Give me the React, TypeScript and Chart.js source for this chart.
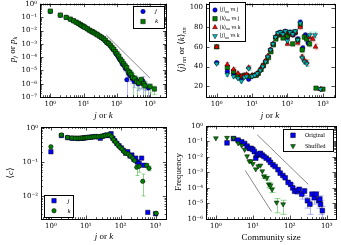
import React, { useEffect, useRef } from "react";
import { Chart, registerables } from "chart.js";

Chart.register(...registerables);

const SERIF = "'Liberation Serif', 'DejaVu Serif', serif";
const TICKFONT = "'DejaVu Serif', 'Liberation Serif', serif";
const BLUE = "#0000ff";
const GREEN = "#008000";
const RED = "#ff0000";
const CYAN = "#00bfbf";

// ===== Panel 1: p_j / p_k =====
const p1JX = [1,2,3,4,5,6,7,8,9,10,12,14,16,18,20,23,26,30,34,38,43,48,54,60,67,75,84,94,105,117,130,145,160,180,200,225,250,290,330,380,440,520,600,700,890];
const p1PjY = [0.28,0.145,0.1,0.072,0.054,0.043,0.035,0.028,0.023,0.02,0.015,0.012,0.01,0.0085,0.0074,0.006,0.005,0.0038,0.003,0.0025,0.0019,0.0014,0.0011,0.0009,6.3e-4,4.2e-4,3.2e-4,1.8e-4,1.3e-4,8e-5,5.6e-5,3.2e-5,2.5e-5,1.4e-5,2e-6,6e-6,4e-6,2.5e-6,1.5e-6,2e-6,1e-6,1.2e-6,1.7e-6,8e-7,4.8e-7];
const p1PjErr = [0,0,0,0,0,0,0,0,0,0,0,0,0,0,0,0,0,0,0,0,0,0,0,0,0,0,0,0,0,1.5e-5,1.2e-5,9e-6,8e-6,6e-6,2e-6,3e-6,2.5e-6,1.5e-6,1e-6,1.2e-6,7e-7,8e-7,1.7e-6,5e-7,4.8e-7];
const p1KX = [1,2,3,4,5,6,7,8,9,10,11,13,15,17,19,21,24,27,31,35,40,45,51,57,64,72,81,91,102,115,128,143,160,178,198,220,245,270,300,345,400,460,540,640,700,1000,1350];
const p1PkY = [0.3,0.15,0.1,0.075,0.056,0.044,0.036,0.029,0.024,0.021,0.018,0.014,0.011,0.0092,0.008,0.0068,0.0056,0.0047,0.0038,0.0031,0.0025,0.0019,0.0013,0.0011,8e-4,5.5e-4,4e-4,2.6e-4,1.8e-4,1.2e-4,7e-5,5e-5,3.2e-5,2.2e-5,1.6e-5,9e-6,7e-6,5e-6,3e-6,2.5e-6,1.5e-6,1.2e-6,2e-6,1e-6,7e-7,6e-7,4e-7];
const p1PkErr = [0,0,0,0,0,0,0,0,0,0,0,0,0,0,0,0,0,0,0,0,0,0,0,0,0,0,0,0,0,0,1.2e-5,1e-5,8e-6,6e-6,5e-6,4e-6,3.5e-6,3e-6,3e-6,1.5e-6,1.5e-6,8e-7,1.2e-6,6e-7,7e-7,4e-7,2.5e-7];
const p1RefX = [48, 1000];
const p1RefY = [0.0048, 2.6e-6];
const p1XTicks = [1, 10, 100, 1000];
const p1YTicks = [1e-7, 1e-6, 1e-5, 1e-4, 1e-3, 1e-2, 1e-1, 1];

// ===== Panel 2: <j>_nn / <k>_nn =====
const p2BX = [1,2,3,4,5,6,7,8,10,12,14,17,20,24,28,33,39,46,54,63,74,87,100,118,140,165,195,230,270,320,380,900];
const p2BY = [44,35,33,29,28,30,30,27,30,31,32,36,40,45,50,57,63,70,74,75,73,76,70,75,72,74,68,85,59,72,64,17];
const p2BErr = [1.5,2,2,1.5,1.5,1,1,1,1,1,1,1,1,1,1,1,1,1,1,1.5,1.5,1.5,2,2,2,2,2.5,2.5,2.5,2.5,3,1];
const p2GX = [1,2,3,4,5,6,7,9,11,13,15,18,21,25,29,34,40,47,55,64,75,88,100,120,140,165,195,230,260,300,350,420,640,1000];
const p2GY = [60,39,35,31,30,31,31,30,31,31,33,37,41,45,49,55,62,68,72,73,69,74,71,74,63,75,67,82,57,70,68,63,18,17];
const p2GErr = [1.5,2,2,1.5,1.5,1,1,1,1,1,1,1,1,1,1,1,1,1,1,1.5,1.5,1.5,2,2,2,2,2.5,2.5,2.5,2.5,3,3,1,1];
const p2RX = [1,2,3,4,5,6,7,8,10,12,14,17,20,24,28,33,39,46,54,63,74,87,100,118,140,165,195,230,260,300,350,420,520,620,850];
const p2RY = [60,42,37,33,30,31,32,39,31,31,33,37,41,46,51,57,63,70,73,74,72,75,63,74,72,75,64,80,50,46,44,70,68,60,17];
const p2RErr = [1.5,2,2,1.5,1.5,1,1,2,1,1,1,1,1,1,1,1,1,1,1,1.5,1.5,1.5,2,2,2,2,2.5,2.5,2.5,2.5,3,3,3,3,1];
const p2CX = [1,2,3,4,5,6,7,8,10,12,14,17,20,24,28,33,39,46,54,63,74,87,100,118,140,165,195,230,260,300,350,420,600,850];
const p2CY = [43,32,30,28,25,29,30,38,30,31,33,36,40,45,50,57,63,70,74,75,73,76,66,75,73,76,67,84,49,45,43,72,72,17];
const p2CErr = [1.5,2,2,1.5,1.5,1,1,2,1,1,1,1,1,1,1,1,1,1,1,1.5,1.5,1.5,2,2,2,2,2.5,2.5,2.5,2.5,3,3,3,1];
const p2XTicks = [1, 10, 100, 1000];
const p2YTicks = [20, 40, 60, 80, 100];

// ===== Panel 3: <c> =====
const p3JX = [1,2,3,4,5,6,7,8,9,10,12,14,16,19,22,26,30,35,40,46,53,60,68,78,90,105,120,140,160,185,210,240,270,300,340,400,460,600,1000];
const p3CJ = [0.2,0.6,0.52,0.5,0.5,0.49,0.5,0.5,0.51,0.52,0.53,0.54,0.55,0.56,0.55,0.5,0.57,0.6,0.62,0.6,0.68,0.5,0.42,0.35,0.3,0.26,0.22,0.18,0.2,0.15,0.16,0.12,0.13,0.1,0.09,0.13,0.08,0.0033,0.003];
const p3KX = [1,2,3,4,5,6,7,8,9,10,11,13,15,17,20,23,27,31,36,42,48,55,63,72,83,95,110,125,145,165,190,220,250,290,340,430,560,650,1050];
const p3CK = [0.28,0.62,0.53,0.51,0.5,0.5,0.5,0.51,0.51,0.52,0.53,0.53,0.54,0.55,0.56,0.55,0.57,0.58,0.6,0.62,0.63,0.55,0.45,0.38,0.32,0.27,0.24,0.2,0.18,0.17,0.15,0.13,0.11,0.07,0.075,0.027,0.08,0.065,0.0031];
const p3CKErr = [0,0,0,0,0,0,0,0,0,0,0,0,0,0,0,0,0,0,0,0,0,0,0,0,0,0,0,0,0,0,0,0,0,0.03,0.025,0.017,0.01,0.01,0];
const p3XTicks = [1, 10, 100, 1000];
const p3YTicks = [0.01, 0.1, 1];

// ===== Panel 4: community sizes =====
const p4OrigX = [2,3,4,5,6,7,8,9,10,11,12,13,14,16,18,20,23,27,30,35,40,48,55,65,75,90,105,120,135,160,180,210,250,300,350,400,460,520,600,650,680,760];
const p4OrigY = [0.08,0.15,0.12,0.093,0.072,0.049,0.035,0.035,0.03,0.022,0.0082,0.013,0.015,0.017,0.013,0.0105,0.0082,0.0063,0.0044,0.0031,0.0024,0.0015,9e-4,6.3e-4,4.5e-4,2.3e-4,1.7e-4,1e-4,6.3e-5,6.3e-5,8e-5,3.9e-5,6.3e-5,1.5e-5,9e-6,3.9e-5,2.4e-5,3.9e-5,1.5e-5,1.9e-5,9e-6,3.5e-6];
const p4OrigErr = [0,0,0,0,0,0,0,0,0,0,0,0,0,0,0,0,0,0,0,0,0,0,0,0,0,0,2e-5,2e-5,2e-5,2.5e-5,3e-5,2e-5,3e-5,1e-5,7e-6,2e-5,1.5e-5,2e-5,1e-5,1.2e-5,7e-6,3e-6];
const p4ShufX = [1,2,3,4,5,6,7,8,9,10,12,14,16,18,20,24,27,30,33,44,66];
const p4ShufY = [0.16,0.17,0.16,0.076,0.054,0.029,0.011,0.0053,0.0053,0.0035,0.0016,0.0025,0.0028,0.0012,5.6e-4,4.4e-4,1.7e-4,1.4e-4,8e-5,1.15e-5,9e-6];
const p4ShufErr = [0,0,0,0,0,0,0,0,0,0,0,0,0,0,1.5e-4,1.2e-4,6e-5,5e-5,3e-5,9e-6,7e-6];
const p4RefAX = [13, 316];
const p4RefAY = [0.27, 1.7e-4];
const p4RefBX = [6.2, 32];
const p4RefBY = [1.35e-3, 3e-6];
const p4XTicks = [1, 10, 100, 1000];
const p4YTicks = [1e-6, 1e-5, 1e-4, 1e-3, 1e-2, 1e-1, 1];

// ===== helpers =====
const SUP: Record<string, string> = { "0": "⁰", "1": "¹", "2": "²", "3": "³", "4": "⁴", "5": "⁵", "6": "⁶", "7": "⁷", "8": "⁸", "9": "⁹", "-": "⁻" };
const pow10Label = (v: number) => {
  const e = Math.round(Math.log10(v));
  return "10" + String(e).split("").map((c) => SUP[c]).join("");
};

type Seg = { t: string; it?: boolean; sub?: boolean };
type LegendItem = { segs: Seg[]; style: string; color: string; r: number; rot?: number };
type LegendSpec = { x: number; y: number; w: number; h: number; mx: number; tx: number; rows: number[]; size: number; items: LegendItem[] };
type TitleSpec = { segs: Seg[]; x: number; y: number; size: number; rotate?: boolean };
type AxisSpec = { min: number; max: number; ticks: number[]; log: boolean };
type PanelSpec = {
  left: number; top: number; w: number; h: number;
  area: { left: number; top: number; right: number; bottom: number };
  x: AxisSpec; y: AxisSpec;
  datasets: any[];
  legend: LegendSpec;
  xTitle: TitleSpec; yTitle: TitleSpec;
  capW: number;
};

const pts = (xs: number[], ys: number[]) => xs.map((x, i) => ({ x, y: ys[i] }));

function series(xs: number[], ys: number[], style: string, color: string, r: number, order: number, err?: number[], errColor?: string, rot = 0) {
  return {
    data: pts(xs, ys), pointStyle: style, pointRadius: r, pointHoverRadius: r,
    pointBackgroundColor: color, pointBorderColor: "#000", pointBorderWidth: 0.5,
    pointRotation: rot, order, err, errColor, showLine: false,
  };
}
function refLine(xs: number[], ys: number[]) {
  return { data: pts(xs, ys), showLine: true, pointRadius: 0, borderColor: "#8a8a8a", borderWidth: 1, order: 20 };
}

function drawRich(ctx: CanvasRenderingContext2D, segs: Seg[], x: number, y: number, size: number, align: "left" | "center") {
  const fontFor = (s: Seg) => `${s.it ? "italic " : ""}${s.sub ? size * 0.7 : size}px ${SERIF}`;
  let total = 0;
  const ws = segs.map((s) => { ctx.font = fontFor(s); const w = ctx.measureText(s.t).width; total += w; return w; });
  let cx = align === "left" ? x : x - total / 2;
  ctx.textAlign = "left";
  ctx.textBaseline = "middle";
  ctx.fillStyle = "#000";
  segs.forEach((s, i) => {
    ctx.font = fontFor(s);
    ctx.fillText(s.t, cx, y + (s.sub ? size * 0.28 : 0));
    cx += ws[i];
  });
}

function drawMarker(ctx: CanvasRenderingContext2D, style: string, x: number, y: number, r: number, fill: string, rot = 0) {
  ctx.save();
  ctx.fillStyle = fill;
  ctx.strokeStyle = "#000";
  ctx.lineWidth = 0.5;
  ctx.beginPath();
  if (style === "circle") ctx.arc(x, y, r, 0, Math.PI * 2);
  else if (style === "rect") { const s = r / Math.SQRT2; ctx.rect(x - s, y - s, 2 * s, 2 * s); }
  else {
    let a = (rot * Math.PI) / 180;
    for (let k = 0; k < 3; k++) {
      const px = x + Math.sin(a) * r, py = y - Math.cos(a) * r;
      if (k === 0) ctx.moveTo(px, py); else ctx.lineTo(px, py);
      a += (2 * Math.PI) / 3;
    }
    ctx.closePath();
  }
  ctx.fill();
  ctx.stroke();
  ctx.restore();
}

function tickList(a: AxisSpec) {
  const out: { v: number; major: boolean }[] = [];
  if (a.log) {
    for (let d = Math.floor(Math.log10(a.min)); d <= Math.ceil(Math.log10(a.max)); d++) {
      for (let m = 1; m <= 9; m++) {
        const v = m * Math.pow(10, d);
        if (v >= a.min && v <= a.max) out.push({ v, major: m === 1 });
      }
    }
  } else {
    a.ticks.forEach((v) => out.push({ v, major: true }));
  }
  return out;
}

function decor(p: PanelSpec) {
  return {
    id: "decor",
    beforeDatasetsDraw(chart: any) {
      const ctx: CanvasRenderingContext2D = chart.ctx;
      const ca = chart.chartArea;
      const xs = chart.scales.x, ys = chart.scales.y;
      ctx.save();
      ctx.beginPath();
      ctx.rect(ca.left, ca.top, ca.right - ca.left, ca.bottom - ca.top);
      ctx.clip();
      chart.data.datasets.forEach((ds: any) => {
        if (!ds.err) return;
        ctx.strokeStyle = ds.errColor;
        ctx.lineWidth = 1;
        ds.data.forEach((pt: any, j: number) => {
          const e = ds.err[j];
          if (!e) return;
          const px = Math.round(xs.getPixelForValue(pt.x)) + 0.5;
          const yTop = ys.getPixelForValue(pt.y + e);
          const lowOk = pt.y - e > 0;
          const yBot = lowOk ? ys.getPixelForValue(pt.y - e) : ca.bottom + 2;
          ctx.beginPath();
          ctx.moveTo(px, yTop); ctx.lineTo(px, yBot);
          ctx.moveTo(px - p.capW, yTop); ctx.lineTo(px + p.capW, yTop);
          if (lowOk) { ctx.moveTo(px - p.capW, yBot); ctx.lineTo(px + p.capW, yBot); }
          ctx.stroke();
        });
      });
      ctx.restore();
    },
    afterDatasetsDraw(chart: any) {
      const ctx: CanvasRenderingContext2D = chart.ctx;
      const ca = chart.chartArea;
      const xs = chart.scales.x, ys = chart.scales.y;
      ctx.save();
      ctx.strokeStyle = "#000";
      ctx.lineWidth = 0.7;
      ctx.beginPath();
      tickList(p.x).forEach((t) => {
        const px = Math.round(xs.getPixelForValue(t.v)) + 0.5;
        const L = t.major ? 3.5 : 1.8;
        ctx.moveTo(px, ca.bottom); ctx.lineTo(px, ca.bottom - L);
        ctx.moveTo(px, ca.top); ctx.lineTo(px, ca.top + L);
      });
      tickList(p.y).forEach((t) => {
        const py = Math.round(ys.getPixelForValue(t.v)) + 0.5;
        const L = t.major ? 3.5 : 1.8;
        ctx.moveTo(ca.left, py); ctx.lineTo(ca.left + L, py);
        ctx.moveTo(ca.right, py); ctx.lineTo(ca.right - L, py);
      });
      ctx.stroke();
      ctx.lineWidth = 1;
      ctx.strokeRect(Math.round(ca.left) + 0.5, Math.round(ca.top) + 0.5, Math.round(ca.right - ca.left), Math.round(ca.bottom - ca.top));
      // legend
      const lg = p.legend;
      ctx.fillStyle = "#fff";
      ctx.fillRect(lg.x, lg.y, lg.w, lg.h);
      ctx.strokeStyle = "#000";
      ctx.lineWidth = 1;
      ctx.strokeRect(lg.x + 0.5, lg.y + 0.5, lg.w, lg.h);
      lg.items.forEach((it, i) => {
        drawMarker(ctx, it.style, lg.mx, lg.rows[i], it.r, it.color, it.rot || 0);
        drawRich(ctx, it.segs, lg.tx, lg.rows[i], lg.size, "left");
      });
      ctx.restore();
    },
    afterDraw(chart: any) {
      const ctx: CanvasRenderingContext2D = chart.ctx;
      [p.xTitle, p.yTitle].forEach((t) => {
        ctx.save();
        ctx.translate(t.x, t.y);
        if (t.rotate) ctx.rotate(-Math.PI / 2);
        drawRich(ctx, t.segs, 0, 0, t.size, "center");
        ctx.restore();
      });
    },
  };
}

function buildConfig(p: PanelSpec): any {
  const axis = (a: AxisSpec, isX: boolean) => ({
    type: a.log ? "logarithmic" : "linear",
    min: a.min, max: a.max, bounds: "data",
    grid: { display: false, drawTicks: false },
    border: { display: false },
    ticks: {
      color: "#000", font: { family: TICKFONT, size: 7 }, padding: 3,
      autoSkip: false, maxRotation: 0, minRotation: 0,
      callback: (v: number) => (a.log ? pow10Label(v) : String(v)),
    },
    afterBuildTicks: (s: any) => { s.ticks = a.ticks.map((v) => ({ value: v })); },
    afterFit: (s: any) => {
      if (isX) s.height = p.h - p.area.bottom; else s.width = p.area.left;
      s.paddingLeft = 0; s.paddingRight = 0; s.paddingTop = 0; s.paddingBottom = 0;
    },
  });
  return {
    type: "scatter",
    data: { datasets: p.datasets },
    options: {
      animation: false, responsive: false, maintainAspectRatio: false,
      layout: { padding: { left: 0, top: p.area.top, right: p.w - p.area.right, bottom: 0 } },
      plugins: { legend: { display: false }, tooltip: { enabled: false } },
      scales: { x: axis(p.x, true), y: axis(p.y, false) },
    },
    plugins: [decor(p)],
  };
}

const jOrK: Seg[] = [{ t: "j", it: true }, { t: " or " }, { t: "k", it: true }];

const panels: PanelSpec[] = [
  {
    left: 0, top: 0, w: 170, h: 122,
    area: { left: 40, top: 2, right: 167, bottom: 97 },
    x: { min: 0.49, max: 3100, ticks: p1XTicks, log: true },
    y: { min: 1e-7, max: 1.1, ticks: p1YTicks, log: true },
    datasets: [
      refLine(p1RefX, p1RefY),
      series(p1JX, p1PjY, "circle", BLUE, 2.2, 2, p1PjErr, "rgba(90,90,255,0.45)"),
      series(p1KX, p1PkY, "rect", GREEN, 3.1, 1, p1PkErr, "rgba(40,170,40,0.45)"),
    ],
    legend: {
      x: 133, y: 6, w: 31, h: 22, mx: 143, tx: 155, rows: [11.5, 21.5], size: 7,
      items: [
        { segs: [{ t: "j", it: true }], style: "circle", color: BLUE, r: 2.2 },
        { segs: [{ t: "k", it: true }], style: "rect", color: GREEN, r: 3.1 },
      ],
    },
    xTitle: { segs: jOrK, x: 103.5, y: 116, size: 9 },
    yTitle: { segs: [{ t: "p", it: true }, { t: "j", it: true, sub: true }, { t: " or " }, { t: "p", it: true }, { t: "k", it: true, sub: true }], x: 13, y: 49.5, size: 9, rotate: true },
    capW: 2,
  },
  {
    left: 170, top: 0, w: 171, h: 122,
    area: { left: 36, top: 2, right: 165, bottom: 97 },
    x: { min: 0.5, max: 2200, ticks: p2XTicks, log: true },
    y: { min: 9, max: 104, ticks: p2YTicks, log: false },
    datasets: [
      series(p2BX, p2BY, "circle", BLUE, 2.2, 4, p2BErr, "rgba(90,90,255,0.45)"),
      series(p2GX, p2GY, "rect", GREEN, 3.1, 3, p2GErr, "rgba(40,170,40,0.45)"),
      series(p2RX, p2RY, "triangle", RED, 2.8, 2, p2RErr, "rgba(255,110,110,0.5)"),
      series(p2CX, p2CY, "triangle", CYAN, 2.8, 1, p2CErr, "rgba(0,190,190,0.45)", 180),
    ],
    legend: {
      x: 39, y: 2, w: 36, h: 39, mx: 45, tx: 49.5, rows: [10, 18.7, 27.3, 36], size: 5.5,
      items: [
        { segs: [{ t: "⟨" }, { t: "j", it: true }, { t: "⟩" }, { t: "nn", sub: true }, { t: " vs j" }], style: "circle", color: BLUE, r: 2.2 },
        { segs: [{ t: "⟨" }, { t: "k", it: true }, { t: "⟩" }, { t: "nn", sub: true }, { t: " vs j" }], style: "rect", color: GREEN, r: 3.1 },
        { segs: [{ t: "⟨" }, { t: "k", it: true }, { t: "⟩" }, { t: "nn", sub: true }, { t: " vs k" }], style: "triangle", color: RED, r: 2.8 },
        { segs: [{ t: "⟨" }, { t: "j", it: true }, { t: "⟩" }, { t: "nn", sub: true }, { t: " vs k" }], style: "triangle", color: CYAN, r: 2.8, rot: 180 },
      ],
    },
    xTitle: { segs: jOrK, x: 100, y: 116, size: 9 },
    yTitle: { segs: [{ t: "⟨" }, { t: "j", it: true }, { t: "⟩" }, { t: "nn", it: true, sub: true }, { t: " or " }, { t: "⟨" }, { t: "k", it: true }, { t: "⟩" }, { t: "nn", it: true, sub: true }], x: 11.7, y: 50, size: 9, rotate: true },
    capW: 2,
  },
  {
    left: 0, top: 122, w: 170, h: 123,
    area: { left: 41, top: 5, right: 167, bottom: 97 },
    x: { min: 0.52, max: 2050, ticks: p3XTicks, log: true },
    y: { min: 0.0021, max: 1.07, ticks: p3YTicks, log: true },
    datasets: [
      series(p3JX, p3CJ, "rect", BLUE, 3.1, 2),
      series(p3KX, p3CK, "circle", GREEN, 2.2, 1, p3CKErr, "rgba(40,170,40,0.5)"),
    ],
    legend: {
      x: 44, y: 73, w: 29, h: 22, mx: 54, tx: 67.5, rows: [78.7, 88.7], size: 7,
      items: [
        { segs: [{ t: "j", it: true }], style: "rect", color: BLUE, r: 3.1 },
        { segs: [{ t: "k", it: true }], style: "circle", color: GREEN, r: 2.2 },
      ],
    },
    xTitle: { segs: jOrK, x: 104, y: 115, size: 9 },
    yTitle: { segs: [{ t: "⟨" }, { t: "c", it: true }, { t: "⟩" }], x: 11, y: 51, size: 9, rotate: true },
    capW: 2,
  },
  {
    left: 170, top: 122, w: 171, h: 123,
    area: { left: 36, top: 3, right: 166, bottom: 97 },
    x: { min: 0.54, max: 1780, ticks: p4XTicks, log: true },
    y: { min: 1e-6, max: 1, ticks: p4YTicks, log: true },
    datasets: [
      refLine(p4RefAX, p4RefAY),
      refLine(p4RefBX, p4RefBY),
      series(p4OrigX, p4OrigY, "rect", BLUE, 3.3, 2, p4OrigErr, "rgba(100,100,255,0.5)"),
      series(p4ShufX, p4ShufY, "triangle", GREEN, 2.8, 1, p4ShufErr, "rgba(40,170,40,0.5)", 180),
    ],
    legend: {
      x: 113, y: 7, w: 50, h: 22, mx: 123, tx: 135, rows: [13.3, 24], size: 6,
      items: [
        { segs: [{ t: "Original" }], style: "rect", color: BLUE, r: 3.3 },
        { segs: [{ t: "Shuffled" }], style: "triangle", color: GREEN, r: 2.8, rot: 180 },
      ],
    },
    xTitle: { segs: [{ t: "Community size" }], x: 101, y: 116, size: 9 },
    yTitle: { segs: [{ t: "Frequency" }], x: 9, y: 50, size: 9, rotate: true },
    capW: 3,
  },
];

function Panel({ spec }: { spec: PanelSpec }) {
  const ref = useRef<HTMLCanvasElement>(null);
  useEffect(() => {
    const chart = new Chart(ref.current as HTMLCanvasElement, buildConfig(spec));
    return () => chart.destroy();
  }, [spec]);
  return (
    <canvas
      ref={ref}
      width={spec.w}
      height={spec.h}
      style={{ position: "absolute", left: spec.left, top: spec.top, width: spec.w, height: spec.h }}
    />
  );
}

export default function App() {
  return (
    <div style={{ position: "fixed", left: 0, top: 0, width: 341, height: 245, background: "#fff", overflow: "hidden" }}>
      {panels.map((p, i) => (
        <Panel key={i} spec={p} />
      ))}
    </div>
  );
}
